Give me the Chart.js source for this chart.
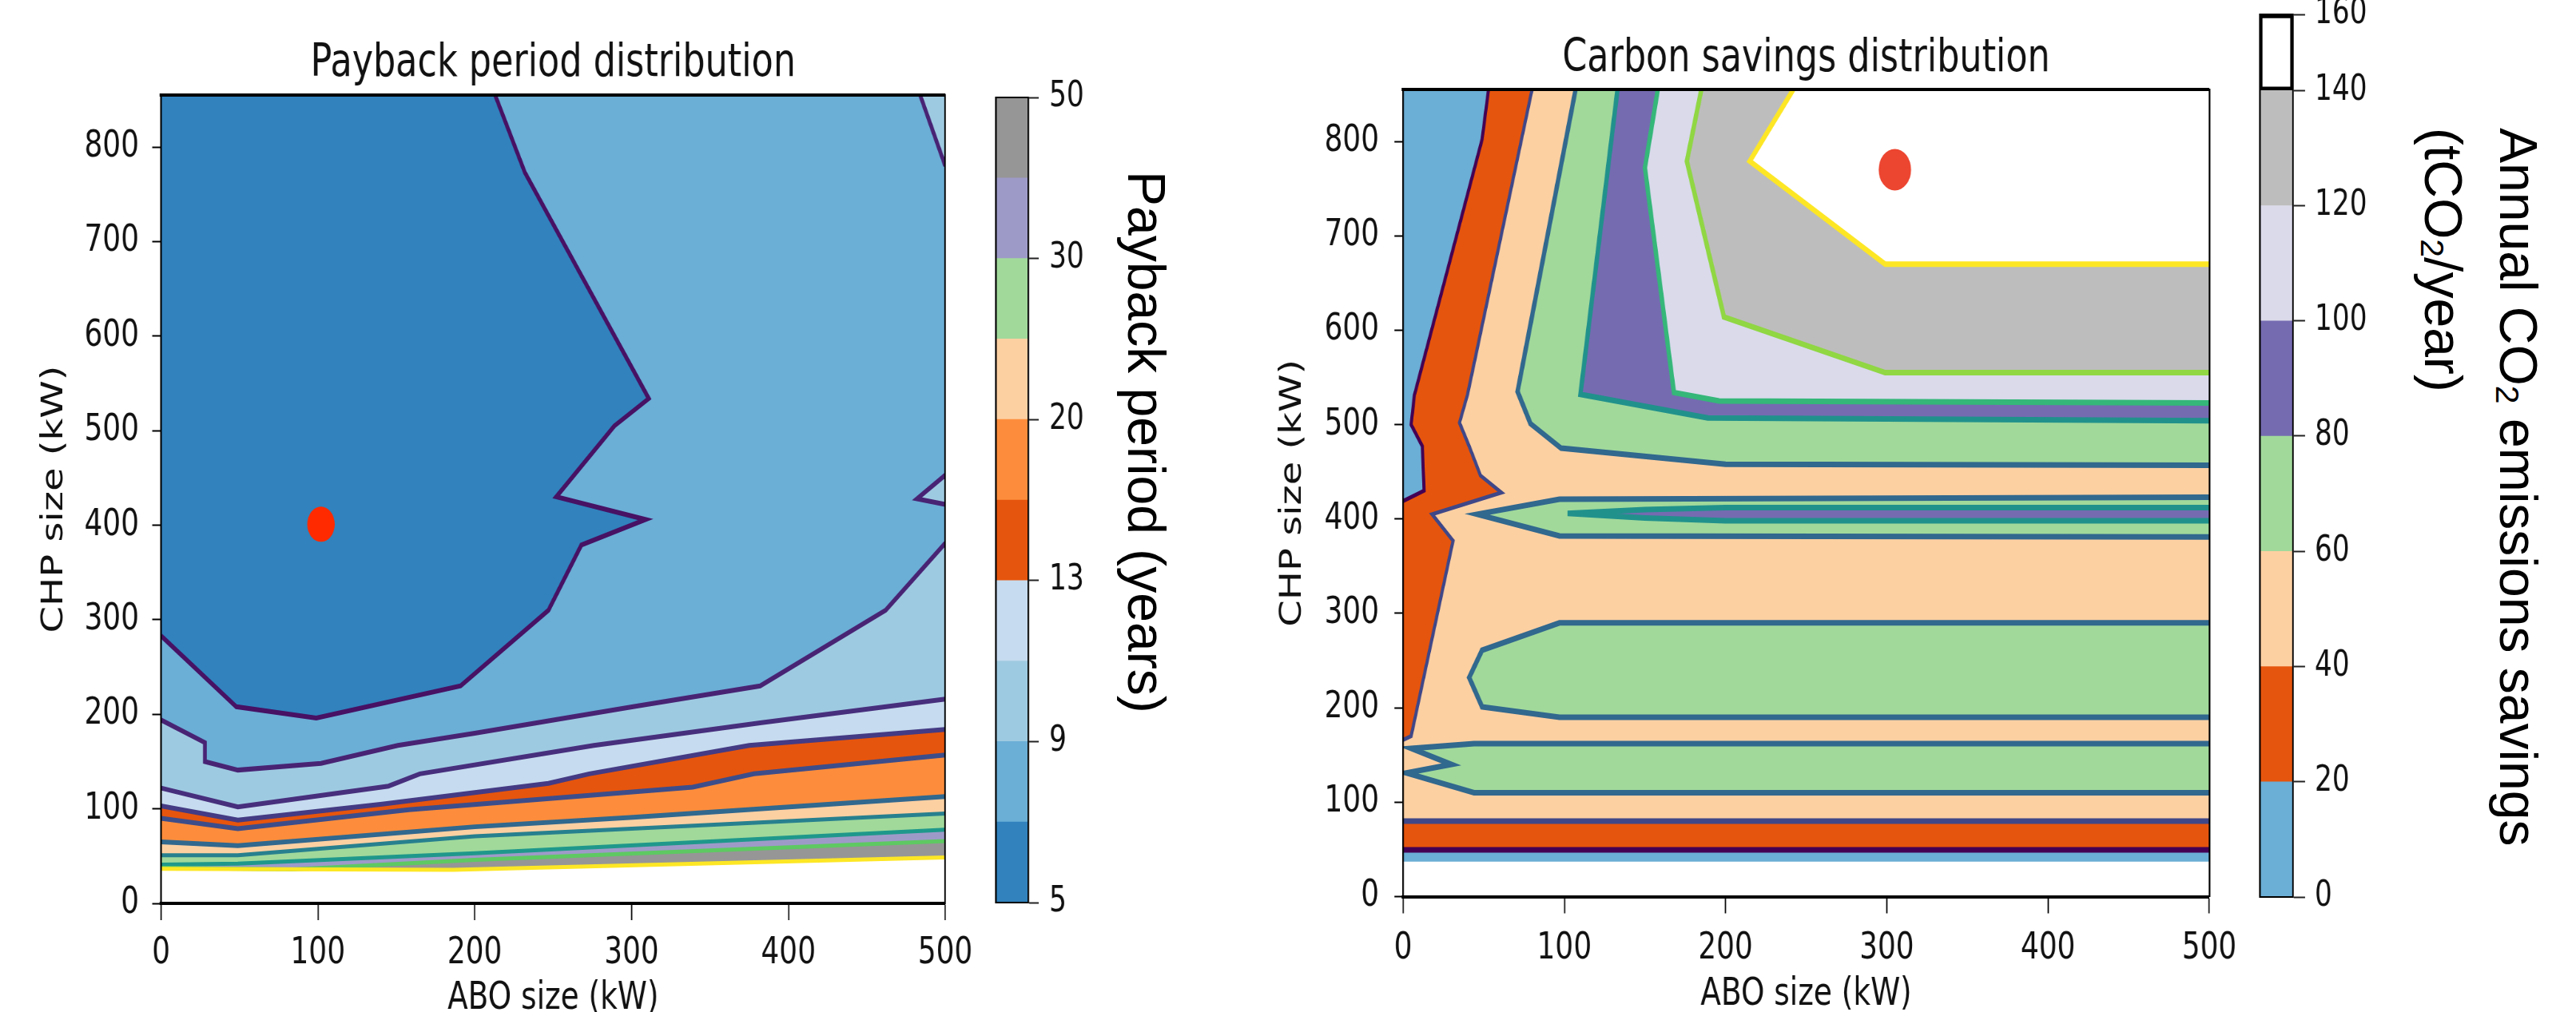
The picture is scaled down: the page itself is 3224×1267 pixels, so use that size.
<!DOCTYPE html>
<html>
<head>
<meta charset="utf-8">
<title>Payback period and carbon savings distribution</title>
<script src="https://cdn.jsdelivr.net/npm/chart.js@4.4.1/dist/chart.umd.min.js"></script>
<style>
  html, body { margin: 0; padding: 0; background: #fff; overflow: hidden; }
  body { position: relative; width: 3224px; height: 1267px; }
  .panel { position: absolute; }
  .squash { position: relative; height: 100%; transform-origin: 0 0; }
  .cblabel { position: absolute; writing-mode: vertical-rl; white-space: nowrap;
             font-family: "Liberation Sans", Arial, sans-serif; font-size: 66px; line-height: 80px; color: #000; }
  .cblabel sub { font-size: 62%; }
</style>
</head>
<body>
<div class="panel" id="pbPanel"><div class="squash"><canvas id="pbChart"></canvas></div></div>
<div class="panel" id="pbBarPanel"><div class="squash"><canvas id="pbBar"></canvas></div></div>
<div class="panel" id="csPanel"><div class="squash"><canvas id="csChart"></canvas></div></div>
<div class="panel" id="csBarPanel"><div class="squash"><canvas id="csBar"></canvas></div></div>
<div class="cblabel" style="left:1395px; top:214px">Payback period (years)</div>
<div class="cblabel" style="left:3004px; top:160px">Annual CO<sub>2</sub> emissions savings<br>(tCO<sub>2</sub>/year)</div>
<script>
/* ---------------- values ---------------- */

// shared axes, kW
const aboTicks = [0, 100, 200, 300, 400, 500];
const chpTicks = [0, 100, 200, 300, 400, 500, 600, 700, 800];
const aboMax = 500;
const chpMax = 855;

// payback period (years)
const pbLevels = [5, 7, 9, 11, 13, 16, 20, 25, 30, 40, 50];
const pbTickLevels = [5, 9, 13, 20, 30, 50];
const pbColors = ['#3182bd', '#6baed6', '#9ecae1', '#c6dbef', '#e6550d', '#fd8d3c', '#fdd0a2', '#a1d99b', '#9e9ac8', '#969696'];
const pbLineColors = ['#440154', '#471164', '#482374', '#472f7d', '#443b84', '#3d4d8a', '#31688e', '#27808e', '#1f988b', '#5ec962', '#fde725'];

// contour lines as (ABO, CHP) pairs
const pb7Abo = [213, 232, 311, 289, 252, 309, 268, 247, 191, 99, 48, 0];
const pb7Chp = [855, 773, 534, 505, 430, 406, 379, 310, 230, 196, 208, 283];
const pb9CornerAbo = [484, 500];
const pb9CornerChp = [855, 780];
const pb9NotchAbo = [500, 482, 500];
const pb9NotchChp = [453, 428, 422];
const pb9Abo = [0, 28, 28, 49, 102, 151, 200, 301, 382, 462, 500];
const pb9Chp = [194, 170, 150, 141, 148, 167, 180, 208, 230, 310, 381];
const pb11Abo = [0, 49, 145, 165, 276, 382, 500];
const pb11Chp = [122, 102, 124, 137, 167, 191, 216];
const pb13Abo = [0, 49, 141, 247, 273, 375, 500];
const pb13Chp = [103, 88, 105, 127, 137, 167, 184];
const pb16Abo = [0, 49, 158, 339, 378, 500];
const pb16Chp = [90, 79, 99, 123, 137, 157];
const pb20Abo = [0, 49, 200, 301, 500];
const pb20Chp = [65, 61, 81, 91, 113];
const pb25Abo = [0, 49, 200, 500];
const pb25Chp = [51, 51, 71, 95];
const pb30Abo = [0, 49, 200, 500];
const pb30Chp = [41, 42, 53, 78];
const pb40Abo = [0, 84, 200, 500];
const pb40Chp = [37.5, 36, 46, 66];
const pb50Abo = [0, 186, 500];
const pb50Chp = [36.5, 35.5, 48.5];
const pbBestAbo = [102];
const pbBestChp = [401];

// annual CO2 savings (tCO2/year)
const csLevels = [0, 20, 40, 60, 80, 100, 120, 140, 160];
const csColors = ['#6baed6', '#e6550d', '#fdd0a2', '#a1d99b', '#756bb1', '#dadaeb', '#bdbdbd'];
const csLineColors = ['#440154', '#440154', '#3f4788', '#31688e', '#21918c', '#35b779', '#90d743', '#fde725', '#fde725'];

// contours coming down from the top edge
const cs20Abo = [53, 49, 7, 5, 12, 13, 0];
const cs20Chp = [855, 802, 531, 500, 477, 430, 419];
const cs40Abo = [80, 40, 35, 41, 48, 61, 18, 31, 5, 0];
const cs40Chp = [855, 532, 502, 477, 446, 428, 405, 377, 170, 166];
const cs60Abo = [107, 71, 79, 98, 200, 500];
const cs60Chp = [855, 535, 501, 475, 458, 457];
const cs80Abo = [133, 110, 189, 500];
const cs80Chp = [855, 532, 507, 504];
const cs100Abo = [158, 150, 168, 196, 500];
const cs100Chp = [855, 772, 534, 525, 523];
const cs120Abo = [185, 176, 199, 299, 500];
const cs120Chp = [855, 779, 614, 555, 555];
const cs140Abo = [242, 215, 299, 500];
const cs140Chp = [855, 779, 670, 670];
// closed 60 bands lower down and the thin 80 band inside the top one
const cs60aAbo = [500, 97, 46, 97, 500];
const cs60aChp = [423, 421, 405, 382, 381];
const cs80aAbo = [500, 200, 150, 102, 150, 200, 500];
const cs80aChp = [412, 412, 410, 406, 401, 398, 398];
const cs60bAbo = [500, 97, 49, 41, 49, 97, 500];
const cs60bChp = [290, 290, 261, 232, 201, 190, 190];
const cs60cAbo = [500, 44, 5, 30, 2, 44, 500];
const cs60cChp = [162, 162, 157, 140, 131, 110, 110];
// flat bands along the bottom
const csLowAbo = [0, 500];
const cs40LowChp = [80, 80];
const cs20LowChp = [49.5, 49.5];
const cs0LowChp = [37, 37];
const csBestAbo = [305];
const csBestChp = [770];
const csBoxShare = 0.66; // the 140-160 box on the colorbar is shorter than the others

/* ---------------- layout (page pixels) ---------------- */

const SQ = 0.78; // the whole figure is squeezed sideways in the picture
const FONT = '"DejaVu Sans", Verdana, sans-serif';

const pbLayout = {left: 0, top: 0, height: 1300, innerW: 1590, plotL: 201.5, plotR: 1183, plotT: 119, plotB: 1131,
  titleMid: 80, yTitleMid: 68, yTickEdge: 174, xTickMid: 1194, xTitleMid: 1251, lineW: 6};
const csLayout = {left: 1560, top: 0, height: 1300, innerW: 1610, plotL: 1756, plotR: 2765, plotT: 112, plotB: 1122.5,
  titleMid: 74, yTitleMid: 1618, yTickEdge: 1726, xTickMid: 1188, xTitleMid: 1246, lineW: 7};
const pbBarLayout = {left: 1236, top: 0, height: 1300, innerW: 220, barL: 1246, barR: 1287, barT: 122, barB: 1130, tickLen: 13, labelL: 1313};
const csBarLayout = {left: 2818, top: -200, height: 1500, innerW: 220, barL: 2828, barR: 2870, barT: 18, barB: 1123, tickLen: 15, labelL: 2897};

Chart.defaults.font.family = FONT;
Chart.defaults.color = '#111';

/* ---------------- helpers ---------------- */

function xy(xs, ys) {
  return xs.map((x, i) => ({x: x, y: ys[i]}));
}

function area(xs, ys, color, fill) {
  return {data: xy(xs, ys), fill: fill, backgroundColor: color, borderColor: 'rgba(0,0,0,0)', borderWidth: 0, pointRadius: 0};
}

function contour(xs, ys, color, width) {
  return {data: xy(xs, ys), fill: false, borderColor: color, borderWidth: width, pointRadius: 0};
}

function dot(xs, ys, color, r) {
  return {data: xy(xs, ys), showLine: false, pointRadius: r, pointBackgroundColor: color, pointBorderColor: color, pointBorderWidth: 0};
}

function edge(w) {
  return {display: true, color: '#000', width: w, z: 1};
}

function panel(id, lay) {
  const outer = document.getElementById(id);
  const inner = outer.firstElementChild;
  outer.style.left = lay.left + 'px';
  outer.style.top = lay.top + 'px';
  outer.style.height = lay.height + 'px';
  outer.style.width = (lay.innerW * SQ) + 'px';
  inner.style.width = lay.innerW + 'px';
  inner.style.transform = 'scaleX(' + SQ + ')';
  return {canvas: inner.querySelector('canvas'), toInner: px => (px - lay.left) / SQ};
}

function frameAxis(pos, max, w) {
  const ax = {type: 'linear', position: pos, min: 0, max: max, ticks: {display: false}, grid: {display: false}, border: edge(w)};
  if (pos === 'top') ax.afterFit = s => { s.height = 0; };
  else ax.afterFit = s => { s.width = 0; };
  return ax;
}

/* ---------------- contour plots ---------------- */

function contourChart(id, lay, title, sets) {
  const p = panel(id, lay);
  const titleH = 57 * 1.2, axisTitleH = 48 * 1.2, tickH = 46 * 1.2;
  const yTickLen = 14, xTickLen = 21;
  const plotL = p.toInner(lay.plotL), plotR = p.toInner(lay.plotR);
  const titleTop = lay.titleMid - lay.top - titleH / 2;
  sets.forEach((d, i) => { d.order = sets.length - i; });

  return new Chart(p.canvas, {
    type: 'line',
    data: {datasets: sets},
    options: {
      responsive: true,
      maintainAspectRatio: false,
      animation: false,
      events: [],
      layout: {autoPadding: false, padding: {left: 0, top: 0, bottom: 0, right: lay.innerW - plotR}},
      elements: {line: {tension: 0}, point: {radius: 0}},
      plugins: {
        legend: {display: false},
        tooltip: {enabled: false},
        title: {display: true, text: title, fullSize: false, color: '#111',
          font: {size: 57, weight: 'normal'},
          padding: {top: titleTop, bottom: (lay.plotT - lay.top) - titleH - titleTop}}
      },
      scales: {
        x: {
          type: 'linear', min: 0, max: aboMax,
          afterBuildTicks: s => { s.ticks = aboTicks.map(v => ({value: v})); },
          afterFit: s => { s.height = lay.top + lay.height - lay.plotB; },
          ticks: {font: {size: 46}, maxRotation: 0, autoSkip: false, padding: lay.xTickMid - lay.plotB - xTickLen - tickH / 2},
          grid: {drawOnChartArea: false, tickLength: xTickLen, tickWidth: 2, tickColor: '#000'},
          border: edge(4),
          title: {display: true, text: 'ABO size (kW)', font: {size: 48},
            padding: {top: 0, bottom: lay.top + lay.height - lay.xTitleMid - axisTitleH / 2}}
        },
        y: {
          type: 'linear', min: 0, max: chpMax,
          afterBuildTicks: s => { s.ticks = chpTicks.map(v => ({value: v})); },
          afterFit: s => { s.width = plotL; },
          ticks: {font: {size: 46}, autoSkip: false, padding: plotL - p.toInner(lay.yTickEdge) - yTickLen},
          grid: {drawOnChartArea: false, tickLength: yTickLen, tickWidth: 2, tickColor: '#000'},
          border: edge(2.6),
          title: {display: true, text: 'CHP size (kW)', font: {size: 48},
            padding: {top: p.toInner(lay.yTitleMid) - axisTitleH / 2, bottom: 0}}
        },
        xTop: frameAxis('top', aboMax, 4),
        yRight: frameAxis('right', chpMax, 2.6)
      }
    }
  });
}

function pbFillBelow(level) {
  const i = pbLevels.indexOf(level);
  return i < pbColors.length ? pbColors[i] : '#ffffff';
}
function pbLine(level) {
  return pbLineColors[pbLevels.indexOf(level)];
}
function csLine(level) {
  return csLineColors[csLevels.indexOf(level)];
}

const pbW = pbLayout.lineW;
const csW = csLayout.lineW;

const pbCurves = [
  [9, pb9Abo, pb9Chp], [11, pb11Abo, pb11Chp], [13, pb13Abo, pb13Chp], [16, pb16Abo, pb16Chp],
  [20, pb20Abo, pb20Chp], [25, pb25Abo, pb25Chp], [30, pb30Abo, pb30Chp], [40, pb40Abo, pb40Chp], [50, pb50Abo, pb50Chp]
];

const pbSets = [
  area([0, aboMax], [chpMax, chpMax], pbColors[1], 'start'),
  area([0].concat(pb7Abo), [chpMax].concat(pb7Chp), pbColors[0], 'shape'),
  area([aboMax].concat(pb9CornerAbo), [chpMax].concat(pb9CornerChp), pbColors[2], 'shape'),
  area(pb9NotchAbo, pb9NotchChp, pbColors[2], 'shape')
];
pbCurves.forEach(c => pbSets.push(area(c[1], c[2], pbFillBelow(c[0]), 'start')));
pbSets.push(contour(pb7Abo, pb7Chp, pbLine(7), pbW));
pbSets.push(contour(pb9CornerAbo, pb9CornerChp, pbLine(9), pbW));
pbSets.push(contour(pb9NotchAbo, pb9NotchChp, pbLine(9), pbW));
pbCurves.forEach(c => pbSets.push(contour(c[1], c[2], pbLine(c[0]), c[0] >= 25 ? pbW - 1 : pbW)));
pbSets.push(dot(pbBestAbo, pbBestChp, '#ff2a00', 22));

const csSets = [
  area([0, aboMax], [chpMax, chpMax], csColors[2], 'start'),
  area(cs60cAbo, cs60cChp, csColors[3], 'shape'),
  area(cs60bAbo, cs60bChp, csColors[3], 'shape'),
  area(cs60aAbo, cs60aChp, csColors[3], 'shape'),
  area(cs80aAbo, cs80aChp, csColors[4], 'shape'),
  area(cs60Abo.concat([aboMax]), cs60Chp.concat([chpMax]), csColors[3], 'shape'),
  area(cs80Abo.concat([aboMax]), cs80Chp.concat([chpMax]), csColors[4], 'shape'),
  area(cs100Abo.concat([aboMax]), cs100Chp.concat([chpMax]), csColors[5], 'shape'),
  area(cs120Abo.concat([aboMax]), cs120Chp.concat([chpMax]), csColors[6], 'shape'),
  area(cs140Abo.concat([aboMax]), cs140Chp.concat([chpMax]), '#ffffff', 'shape'),
  area([0].concat(cs40Abo), [chpMax].concat(cs40Chp), csColors[1], 'shape'),
  area([0].concat(cs20Abo), [chpMax].concat(cs20Chp), csColors[0], 'shape'),
  area(csLowAbo, cs40LowChp, csColors[1], 'start'),
  area(csLowAbo, cs20LowChp, csColors[0], 'start'),
  area(csLowAbo, cs0LowChp, '#ffffff', 'start'),
  contour(cs20Abo, cs20Chp, csLine(20), csW - 2),
  contour(cs40Abo, cs40Chp, csLine(40), csW - 2),
  contour(cs60Abo, cs60Chp, csLine(60), csW),
  contour(cs60aAbo, cs60aChp, csLine(60), csW),
  contour(cs60bAbo, cs60bChp, csLine(60), csW),
  contour(cs60cAbo, cs60cChp, csLine(60), csW),
  contour(cs80aAbo, cs80aChp, csLine(80), csW),
  contour(cs80Abo, cs80Chp, csLine(80), csW),
  contour(cs100Abo, cs100Chp, csLine(100), csW),
  contour(cs120Abo, cs120Chp, csLine(120), csW),
  contour(cs140Abo, cs140Chp, csLine(140), csW),
  contour(csLowAbo, cs40LowChp, csLine(40), csW),
  contour(csLowAbo, cs20LowChp, csLine(20), csW),
  dot(csBestAbo, csBestChp, '#ec4530', 26)
];

contourChart('pbPanel', pbLayout, 'Payback period distribution', pbSets);
contourChart('csPanel', csLayout, 'Carbon savings distribution', csSets);

/* ---------------- colorbars ---------------- */

function colorbarChart(id, lay, bands, tickPos, tickText) {
  const p = panel(id, lay);
  const barL = p.toInner(lay.barL), barR = p.toInner(lay.barR);
  const tickLen = lay.tickLen / SQ;
  const sets = bands.map(b => ({
    data: [b.size], backgroundColor: b.color, borderColor: '#000', borderWidth: b.edge,
    borderSkipped: false, barPercentage: 1, categoryPercentage: 1, clip: false
  }));

  return new Chart(p.canvas, {
    type: 'bar',
    data: {labels: [''], datasets: sets},
    options: {
      responsive: true,
      maintainAspectRatio: false,
      animation: false,
      events: [],
      layout: {autoPadding: false, padding: {left: barL, right: 0, top: lay.barT - lay.top, bottom: 0}},
      plugins: {legend: {display: false}, tooltip: {enabled: false}},
      scales: {
        x: {stacked: true, ticks: {display: false}, grid: {display: false}, border: edge(2),
          afterFit: s => { s.height = lay.top + lay.height - lay.barB; }},
        y: {
          stacked: true, position: 'right', min: 0, max: tickPos[tickPos.length - 1],
          afterBuildTicks: s => { s.ticks = tickPos.map(v => ({value: v})); },
          afterFit: s => { s.width = lay.innerW - barR; },
          ticks: {font: {size: 44}, autoSkip: false, padding: p.toInner(lay.labelL) - barR - tickLen,
            callback: (v, i) => tickText[i]},
          grid: {drawOnChartArea: false, tickLength: tickLen, tickWidth: 2, tickColor: '#222'},
          border: edge(2.6)
        },
        xTop: frameAxis('top', 1, 2),
        yLeft: frameAxis('left', 1, 2.6)
      }
    }
  });
}

colorbarChart('pbBarPanel', pbBarLayout,
  pbColors.map(c => ({size: 1, color: c, edge: 0})),
  pbTickLevels.map(v => pbLevels.indexOf(v)),
  pbTickLevels.map(String));

const csBands = csColors.map(c => ({size: 1, color: c, edge: 0}));
csBands.push({size: csBoxShare, color: '#ffffff', edge: 5});
const csTickPos = csColors.map((c, i) => i).concat([csColors.length, csColors.length + csBoxShare]);
colorbarChart('csBarPanel', csBarLayout, csBands, csTickPos, csLevels.map(String));
</script>
</body>
</html>
